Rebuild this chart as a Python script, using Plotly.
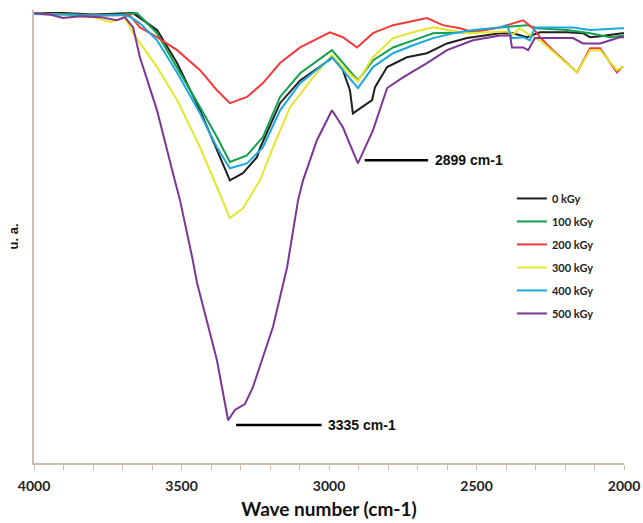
import plotly.graph_objects as go

# FTIR spectra, values (wave number in cm-1, arbitrary units)
wn_0 = [4000, 3900, 3800, 3700, 3664, 3583, 3515, 3437, 3380, 3336, 3292, 3244, 3234, 3166, 3098,
        2986, 2953, 2929, 2919, 2871, 2854, 2844, 2803, 2736, 2668, 2600, 2532, 2420, 2376, 2329,
        2285, 2193, 2139, 2115, 2081, 2007, 2000]
ua_0 = [99.8, 99.8, 99.5, 99.8, 99.8, 96.0, 88.6, 78.0, 69.1, 62.3, 63.9, 67.5, 69.5, 79.6, 84.7,
        89.9, 87.0, 82.5, 77.3, 79.6, 80.3, 83.2, 87.7, 89.9, 90.8, 93.0, 94.2, 95.3, 95.3, 94.4,
        95.5, 95.5, 95.3, 94.4, 94.6, 95.3, 95.3]

wn_100 = [4000, 3900, 3800, 3700, 3651, 3583, 3515, 3437, 3380, 3336, 3278, 3224, 3166, 3098, 2990,
          2953, 2902, 2851, 2783, 2715, 2647, 2532, 2420, 2329, 2295, 2193, 2115, 2047, 2007, 2000]
ua_100 = [99.7, 99.6, 99.4, 99.5, 99.8, 95.3, 87.7, 78.7, 72.0, 66.4, 67.9, 72.0, 81.0, 86.3, 91.5,
          88.6, 84.7, 89.2, 92.1, 93.7, 95.3, 95.5, 96.6, 97.1, 96.4, 96.0, 95.3, 94.4, 94.8, 94.8]

wn_200 = [4000, 3900, 3800, 3700, 3675, 3641, 3583, 3515, 3437, 3380, 3336, 3278, 3224, 3166, 3098,
          2997, 2953, 2905, 2851, 2783, 2668, 2614, 2556, 2512, 2420, 2376, 2342, 2308, 2285, 2241,
          2159, 2115, 2081, 2024, 2007, 2000]
ua_200 = [99.6, 99.4, 99.3, 99.4, 99.3, 96.6, 94.4, 91.5, 87.0, 82.5, 79.6, 81.0, 84.1, 88.6, 92.1,
          95.5, 94.4, 92.1, 95.3, 97.1, 98.7, 97.1, 96.4, 95.5, 96.6, 97.5, 98.2, 96.4, 94.4, 91.5,
          86.5, 91.9, 91.9, 86.5, 87.7, 87.7]

wn_300 = [4000, 3900, 3800, 3742, 3692, 3664, 3583, 3515, 3437, 3380, 3336, 3292, 3234, 3190, 3132,
          3054, 2990, 2953, 2902, 2851, 2783, 2715, 2647, 2532, 2397, 2376, 2353, 2319, 2285, 2159,
          2115, 2081, 2024, 2007, 2000]
ua_300 = [99.8, 99.3, 98.9, 97.8, 98.7, 95.3, 87.7, 80.3, 69.7, 60.8, 53.8, 56.0, 62.3, 69.7, 78.7,
          85.4, 90.4, 87.7, 84.5, 89.9, 94.2, 95.5, 96.6, 95.3, 95.7, 95.0, 96.4, 94.8, 93.7, 86.5,
          91.5, 91.5, 87.0, 87.7, 87.7]

wn_400 = [4000, 3900, 3800, 3700, 3675, 3641, 3583, 3515, 3437, 3380, 3336, 3278, 3224, 3166, 3098,
          2990, 2953, 2902, 2851, 2783, 2715, 2647, 2580, 2512, 2420, 2397, 2380, 2342, 2319, 2302,
          2173, 2115, 2007, 2000]
ua_400 = [99.6, 99.5, 99.2, 99.4, 99.0, 97.5, 93.7, 86.5, 77.3, 69.7, 65.0, 66.1, 69.7, 78.0, 84.1,
          89.9, 87.0, 83.0, 87.7, 90.8, 92.6, 94.2, 95.3, 96.0, 96.6, 97.1, 94.2, 94.4, 93.7, 96.6,
          96.6, 96.0, 96.4, 96.4]

wn_500 = [4000, 3946, 3902, 3844, 3776, 3719, 3692, 3664, 3641, 3583, 3529, 3505, 3464, 3447, 3380,
          3342, 3319, 3285, 3258, 3190, 3142, 3105, 3088, 3041, 2990, 2953, 2902, 2851, 2803, 2749,
          2668, 2600, 2512, 2420, 2386, 2380, 2342, 2325, 2302, 2173, 2139, 2081, 2014, 2000]
ua_500 = [99.8, 99.5, 98.7, 99.1, 98.9, 98.2, 98.9, 96.6, 89.9, 78.0, 63.9, 57.8, 45.1, 39.2, 22.0,
          8.5, 10.8, 12.1, 15.9, 29.4, 42.8, 57.8, 62.3, 71.3, 78.0, 74.2, 66.1, 73.5, 83.0, 85.4,
          88.6, 91.5, 93.7, 94.8, 94.8, 92.1, 92.1, 91.5, 94.2, 94.2, 93.0, 93.0, 94.4, 94.4]

doses = ["0 kGy", "100 kGy", "200 kGy", "300 kGy", "400 kGy", "500 kGy"]
colors = ["#231f20", "#12a04a", "#f23a3a", "#e4e62c", "#1ba8dd", "#7d3596"]

peak_wn = [3335, 2899]
peak_ua = [7.4, 66.8]
peak_text = ["3335 cm-1", "2899 cm-1"]

fig = go.Figure()
for i, (x, y) in enumerate([(wn_0, ua_0), (wn_100, ua_100), (wn_200, ua_200),
                            (wn_300, ua_300), (wn_400, ua_400), (wn_500, ua_500)]):
    fig.add_trace(go.Scatter(x=x, y=y, mode="lines", name="<b>%s</b>" % doses[i], legendgroup=doses[i],
                             line=dict(color=colors[i], width=2)))

# peak labels: short black bar then the text
for w, u, t in zip(peak_wn, peak_ua, peak_text):
    fig.add_shape(type="line", x0=w - 20, x1=w - 310 if w > 3000 else w - 235, y0=u, y1=u,
                  line=dict(color="black", width=2.5))
    fig.add_annotation(x=w - 325 if w > 3000 else w - 250, y=u, text="<b>%s</b>" % t,
                       showarrow=False, xanchor="left",
                       font=dict(size=14, color="#111", family="Arial"))

axis_col = "#cbbdb0"
fig.update_xaxes(range=[4000, 2000], dtick=500, ticks="outside", ticklen=5, tickcolor=axis_col,
                 minor=dict(dtick=100, ticks="outside", ticklen=5, tickcolor=axis_col),
                 showline=True, linecolor=axis_col, linewidth=2, showgrid=False, zeroline=False,
                 automargin=False, ticklabelstandoff=4,
                 tickfont=dict(size=14, color="#222", family="Lato"),
                 tickprefix="<b>", ticksuffix="</b>",
                 title=dict(text="<b>Wave number (cm-1)</b>", standoff=10,
                            font=dict(size=19, color="#111", family="Lato")))
fig.update_yaxes(range=[-1.1, 100.5], showticklabels=False, ticks="", showline=True, linecolor=axis_col,
                 linewidth=2, showgrid=False, zeroline=False, automargin=False,
                 title=dict(text="<b>u. a.</b>", standoff=10,
                            font=dict(size=13, color="#111", family="Arial")))

fig.update_layout(width=643, height=523, margin=dict(l=34, r=19, t=10, b=60),
                  plot_bgcolor="white", paper_bgcolor="white",
                  legend=dict(x=0.81, y=0.616, xanchor="left", yanchor="top", tracegroupgap=4,
                              bgcolor="rgba(0,0,0,0)", itemwidth=30,
                              font=dict(size=11, color="#222", family="Lato")))

# drop the default 8px page margin so the figure fills the window
fig.write_html("out.html", config={"displayModeBar": False},
               post_script="document.body.style.margin='0';document.body.style.overflow='hidden';")
